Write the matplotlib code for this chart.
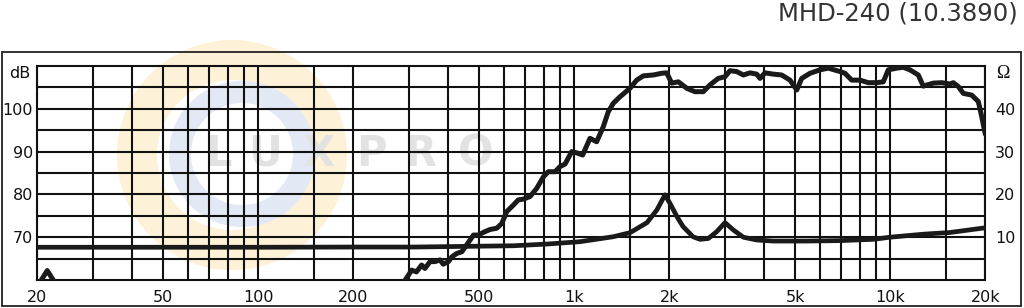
import numpy as np
import matplotlib
matplotlib.use("Agg")
import matplotlib.pyplot as plt
from matplotlib.patches import Wedge, Rectangle
from matplotlib.ticker import FixedLocator, NullFormatter

# ---------------- data ----------------
title = "MHD-240 (10.3890)"
watermark = "LUXPRO"

# SPL (dB) - low-frequency fragment near 20 Hz, break, then main response
spl_freq = [20.2, 21.5, 22.9, np.nan,
            289, 306, 317, 329, 337, 350, 363, 376, 385, 400, 410, 425, 441, 457,
            480, 497, 522, 542, 569, 590, 612, 642, 665, 690, 725, 761, 799, 828,
            870, 902, 936, 982, 1019, 1064, 1122, 1178, 1236, 1282, 1330, 1396,
            1502, 1577, 1655, 1780, 1892, 1963, 2035, 2137, 2271, 2411, 2562,
            2691, 2858, 3001, 3112, 3268, 3430, 3602, 3782, 3873, 4016, 4267,
            4536, 4820, 5063, 5248, 5577, 5998, 6370, 6938, 7194, 7556, 8027,
            8527, 9064, 9512, 9864, 10488, 11004, 11554, 12274, 12728, 13691,
            14556, 15465, 15841, 16429, 17040, 18114, 19005, 19482, 20000]
spl_db = [59.0, 62.2, 59.0, np.nan,
          59.5, 62.3, 61.9, 63.5, 62.7, 64.3, 64.3, 64.7, 63.7, 64.3, 65.4, 66.2, 66.6, 68.2,
          70.5, 70.5, 71.3, 71.8, 72.1, 73.2, 76.0, 77.5, 78.7, 78.9, 79.5, 81.4, 84.1, 85.3,
          85.3, 86.5, 87.1, 90.0, 89.7, 89.2, 93.1, 92.3, 95.8, 99.3, 101.3, 102.8,
          104.8, 106.7, 107.7, 107.9, 108.3, 108.4, 106.0, 106.3, 104.8, 104.0, 104.0,
          105.6, 107.1, 107.5, 108.9, 108.7, 107.9, 108.4, 108.1, 107.1, 108.4, 108.1,
          107.9, 106.7, 104.4, 107.1, 108.3, 109.1, 109.5, 108.7, 108.3, 106.7, 106.7,
          106.1, 106.1, 106.3, 109.1, 109.5, 109.7, 109.1, 107.9, 105.3, 106.0,
          106.1, 105.8, 106.1, 105.2, 103.6, 103.2, 101.7, 98.2, 94.1]

# Impedance (Ohm)
imp_freq = [20, 100, 200, 309, 500, 642, 820, 1043, 1327, 1502, 1700, 1828, 1938,
            2010, 2115, 2210, 2378, 2502, 2657, 2826, 3001, 3188, 3430, 3782, 4267,
            5444, 6938, 8840, 9986, 12728, 15465, 20000]
imp_ohm = [7.65, 7.65, 7.7, 7.7, 7.9, 8.0, 8.4, 8.95, 10.1, 11.05, 13.4, 16.4, 19.9,
           17.9, 14.8, 12.5, 10.1, 9.5, 9.7, 11.3, 13.4, 11.7, 10.0, 9.35, 9.1,
           9.1, 9.2, 9.5, 10.0, 10.7, 11.1, 12.2]

x_label_ticks = [20, 50, 100, 200, 500, 1000, 2000, 5000, 10000, 20000]
x_label_text = ["20", "50", "100", "200", "500", "1k", "2k", "5k", "10k", "20k"]
x_grid_lines = [30, 40, 60, 70, 80, 90, 150, 300, 400, 600, 700, 800, 900, 1500,
                3000, 4000, 6000, 7000, 8000, 9000, 15000]
db_ticks = [70, 80, 90, 100]
db_minor = [65, 75, 85, 95, 105]
ohm_ticks = [10, 20, 30, 40]

# ---------------- figure ----------------
W, H = 1024, 308
fig = plt.figure(figsize=(W / 100, H / 100), dpi=100, facecolor="white")

def px(x, y):
    """pixel (from top-left) -> inches for dpi_scale_trans"""
    return (x / 100.0, (H - y) / 100.0)

# watermark (behind the grid)
wm_t = fig.dpi_scale_trans
fig.patches.append(Wedge(px(232, 155), 1.15, 0, 360, width=0.40,
                         facecolor=(253/255, 241/255, 216/255), edgecolor="none",
                         transform=wm_t, zorder=-2))
fig.patches.append(Wedge(px(242, 154), 0.73, 0, 360, width=0.22,
                         facecolor=(226/255, 233/255, 245/255), edgecolor="none",
                         transform=wm_t, zorder=-1.5))
for ch, cx in zip(watermark, [218, 265, 318, 371, 420, 476]):
    fig.text(cx / W, 1 - 154 / H, ch, ha="center", va="center", fontsize=30,
             fontweight="bold", color=(0.885, 0.885, 0.885), zorder=-1)

# outer frame
fig.patches.append(Rectangle((2 / W, 2 / H), 1019 / W, (306 - 51.5) / H,
                             transform=fig.transFigure, fill=False,
                             edgecolor="#222222", linewidth=1.3, zorder=5))

ax = fig.add_axes([37.3 / W, 28 / H, 948 / W, 214 / H])
ax.set_facecolor("none")
ax.set_xscale("log")
ax.set_xlim(20, 20000)
ax.set_ylim(60, 110)

ax.xaxis.set_major_locator(FixedLocator(x_label_ticks))
ax.xaxis.set_minor_locator(FixedLocator(x_grid_lines))
ax.xaxis.set_minor_formatter(NullFormatter())
ax.set_xticklabels(x_label_text)
ax.yaxis.set_major_locator(FixedLocator(db_ticks))
ax.yaxis.set_minor_locator(FixedLocator(db_minor))
ax.yaxis.set_minor_formatter(NullFormatter())
ax.set_yticklabels([str(v) for v in db_ticks])

ax.tick_params(which="both", length=0)
ax.tick_params(axis="x", pad=7, labelsize=11.5, colors="#111111")
ax.tick_params(axis="y", pad=3, labelsize=11.5, colors="#111111")
ax.grid(True, which="both", color="#111111", linewidth=1.5)
for s in ax.spines.values():
    s.set_color("#111111")
    s.set_linewidth(1.5)

ax.plot(spl_freq, spl_db, color="#1a1a1a", linewidth=3.6,
        solid_joinstyle="round", solid_capstyle="round", zorder=3)

ax2 = ax.twinx()
ax2.set_ylim(0, 50)
ax2.yaxis.set_major_locator(FixedLocator(ohm_ticks))
ax2.set_yticklabels([str(v) for v in ohm_ticks])
ax2.tick_params(length=0, pad=7, labelsize=11.5, colors="#111111")
for s in ax2.spines.values():
    s.set_visible(False)
ax2.plot(imp_freq, imp_ohm, color="#1a1a1a", linewidth=3.4,
         solid_joinstyle="round", solid_capstyle="round", zorder=3)

# unit labels
fig.text(30 / W, 1 - 73 / H, "dB", ha="right", va="center", fontsize=11.5, color="#111111")
fig.text(1003 / W, 1 - 73 / H, "\u03a9", ha="center", va="center", fontsize=13,
         family=["Liberation Serif", "DejaVu Serif"], color="#111111")

# title
fig.text(1018 / W, 1 - 13 / H, title, ha="right", va="center", fontsize=17.5, color="#333333")

fig.savefig("out.png", dpi=100, facecolor="white")
